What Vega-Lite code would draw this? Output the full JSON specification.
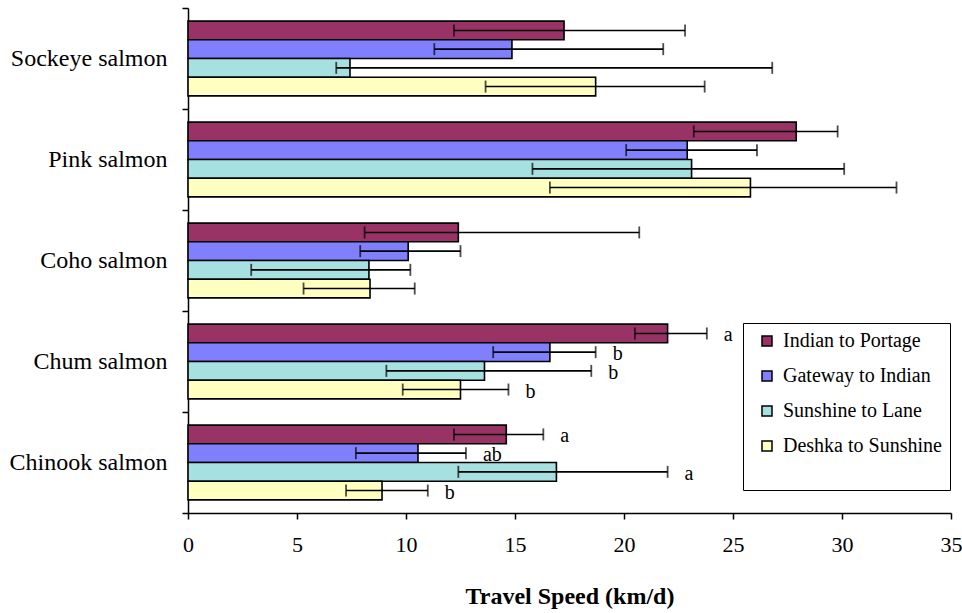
{
  "$schema": "https://vega.github.io/schema/vega-lite/v6.json",
  "autosize": "none",
  "width": 763,
  "height": 505,
  "padding": {"left": 188, "top": 8, "right": 11, "bottom": 100},
  "background": "white",
  "config": {
    "view": {"stroke": null},
    "font": "Liberation Serif",
    "text": {"font": "Liberation Serif"},
    "axis": {"labelFont": "Liberation Serif", "titleFont": "Liberation Serif", "labelColor": "black", "titleColor": "black", "domainColor": "black", "tickColor": "black", "grid": false},
    "legend": {"labelFont": "Liberation Serif", "titleFont": "Liberation Serif"}
  },
  "data": {
    "values": [
      {"species": "Sockeye salmon", "route": "Indian to Portage", "speed": 17.25, "lo": 12.2, "hi": 22.8},
      {"species": "Sockeye salmon", "route": "Gateway to Indian", "speed": 14.86, "lo": 11.3, "hi": 21.8},
      {"species": "Sockeye salmon", "route": "Sunshine to Lane", "speed": 7.43, "lo": 6.8, "hi": 26.8},
      {"species": "Sockeye salmon", "route": "Deshka to Sunshine", "speed": 18.7, "lo": 13.65, "hi": 23.7},
      {"species": "Pink salmon", "route": "Indian to Portage", "speed": 27.9, "lo": 23.2, "hi": 29.8},
      {"species": "Pink salmon", "route": "Gateway to Indian", "speed": 22.9, "lo": 20.1, "hi": 26.1},
      {"species": "Pink salmon", "route": "Sunshine to Lane", "speed": 23.1, "lo": 15.8, "hi": 30.1},
      {"species": "Pink salmon", "route": "Deshka to Sunshine", "speed": 25.8, "lo": 16.6, "hi": 32.5},
      {"species": "Coho salmon", "route": "Indian to Portage", "speed": 12.4, "lo": 8.1, "hi": 20.7},
      {"species": "Coho salmon", "route": "Gateway to Indian", "speed": 10.1, "lo": 7.9, "hi": 12.5},
      {"species": "Coho salmon", "route": "Sunshine to Lane", "speed": 8.3, "lo": 2.9, "hi": 10.2},
      {"species": "Coho salmon", "route": "Deshka to Sunshine", "speed": 8.35, "lo": 5.3, "hi": 10.4},
      {"species": "Chum salmon", "route": "Indian to Portage", "speed": 22.0, "lo": 20.5, "hi": 23.8, "letter": "a"},
      {"species": "Chum salmon", "route": "Gateway to Indian", "speed": 16.6, "lo": 14.0, "hi": 18.7, "letter": "b"},
      {"species": "Chum salmon", "route": "Sunshine to Lane", "speed": 13.6, "lo": 9.1, "hi": 18.5, "letter": "b"},
      {"species": "Chum salmon", "route": "Deshka to Sunshine", "speed": 12.5, "lo": 9.85, "hi": 14.7, "letter": "b"},
      {"species": "Chinook salmon", "route": "Indian to Portage", "speed": 14.6, "lo": 12.2, "hi": 16.3, "letter": "a"},
      {"species": "Chinook salmon", "route": "Gateway to Indian", "speed": 10.55, "lo": 7.7, "hi": 12.75, "letter": "ab"},
      {"species": "Chinook salmon", "route": "Sunshine to Lane", "speed": 16.9, "lo": 12.4, "hi": 22.0, "letter": "a"},
      {"species": "Chinook salmon", "route": "Deshka to Sunshine", "speed": 8.9, "lo": 7.25, "hi": 11.0, "letter": "b"}
    ]
  },
  "encoding": {
    "y": {
      "field": "species", "type": "nominal",
      "sort": ["Sockeye salmon", "Pink salmon", "Coho salmon", "Chum salmon", "Chinook salmon"],
      "scale": {"paddingInner": 0, "paddingOuter": 0},
      "axis": {"title": null, "labelFont": "Liberation Serif", "labelFontSize": 24, "tickBand": "extent", "tickSize": 6, "labelPadding": 15, "domainWidth": 1.5, "tickWidth": 1.5}
    },
    "yOffset": {
      "field": "route", "type": "nominal",
      "sort": ["Indian to Portage", "Gateway to Indian", "Sunshine to Lane", "Deshka to Sunshine"],
      "scale": {"paddingInner": 0, "paddingOuter": 0.7}
    }
  },
  "layer": [
    {
      "mark": {"type": "bar", "stroke": "black", "strokeWidth": 1.6, "cornerRadius": 0},
      "encoding": {
        "x": {
          "field": "speed", "type": "quantitative",
          "scale": {"domain": [0, 35], "nice": false},
          "axis": {"title": "Travel Speed (km/d)", "titleFont": "Liberation Serif", "titleFontSize": 24, "titleFontWeight": "bold", "titlePadding": 29, "labelFont": "Liberation Serif", "labelFontSize": 22, "values": [0, 5, 10, 15, 20, 25, 30, 35], "tickSize": 6, "labelPadding": 15, "domainWidth": 1.5, "tickWidth": 1.5, "labelFlush": false}
        },
        "color": {
          "field": "route", "type": "nominal",
          "scale": {"domain": ["Indian to Portage", "Gateway to Indian", "Sunshine to Lane", "Deshka to Sunshine"], "range": ["#993366", "#8080FF", "#A6E0E0", "#FFFFC0"]},
          "legend": {
            "title": " ", "titleOrient": "bottom", "titleFontSize": 20, "titlePadding": 6,
            "orient": "none", "legendX": 555, "legendY": 315,
            "symbolType": "square", "symbolSize": 100, "symbolStrokeColor": "black", "symbolStrokeWidth": 1.5,
            "labelFont": "Liberation Serif", "labelFontSize": 20, "labelLimit": 300, "labelColor": "black", "rowPadding": 15, "padding": 8,
            "strokeColor": "black", "fillColor": "white", "symbolOffset": 6, "labelOffset": 6
          }
        }
      }
    },
    {
      "mark": {"type": "rule", "color": "black", "strokeWidth": 1.6},
      "encoding": {"x": {"field": "lo", "type": "quantitative"}, "x2": {"field": "hi"}}
    },
    {
      "mark": {"type": "tick", "color": "black", "thickness": 1.8, "size": 12, "orient": "vertical"},
      "encoding": {"x": {"field": "lo", "type": "quantitative"}}
    },
    {
      "mark": {"type": "tick", "color": "black", "thickness": 1.8, "size": 12, "orient": "vertical"},
      "encoding": {"x": {"field": "hi", "type": "quantitative"}}
    },
    {
      "transform": [{"filter": "isValid(datum.letter)"}],
      "mark": {"type": "text", "align": "left", "baseline": "middle", "dx": 17, "dy": 2, "fontSize": 20, "color": "black", "font": "Liberation Serif"},
      "encoding": {"x": {"field": "hi", "type": "quantitative"}, "text": {"field": "letter"}}
    }
  ]
}
